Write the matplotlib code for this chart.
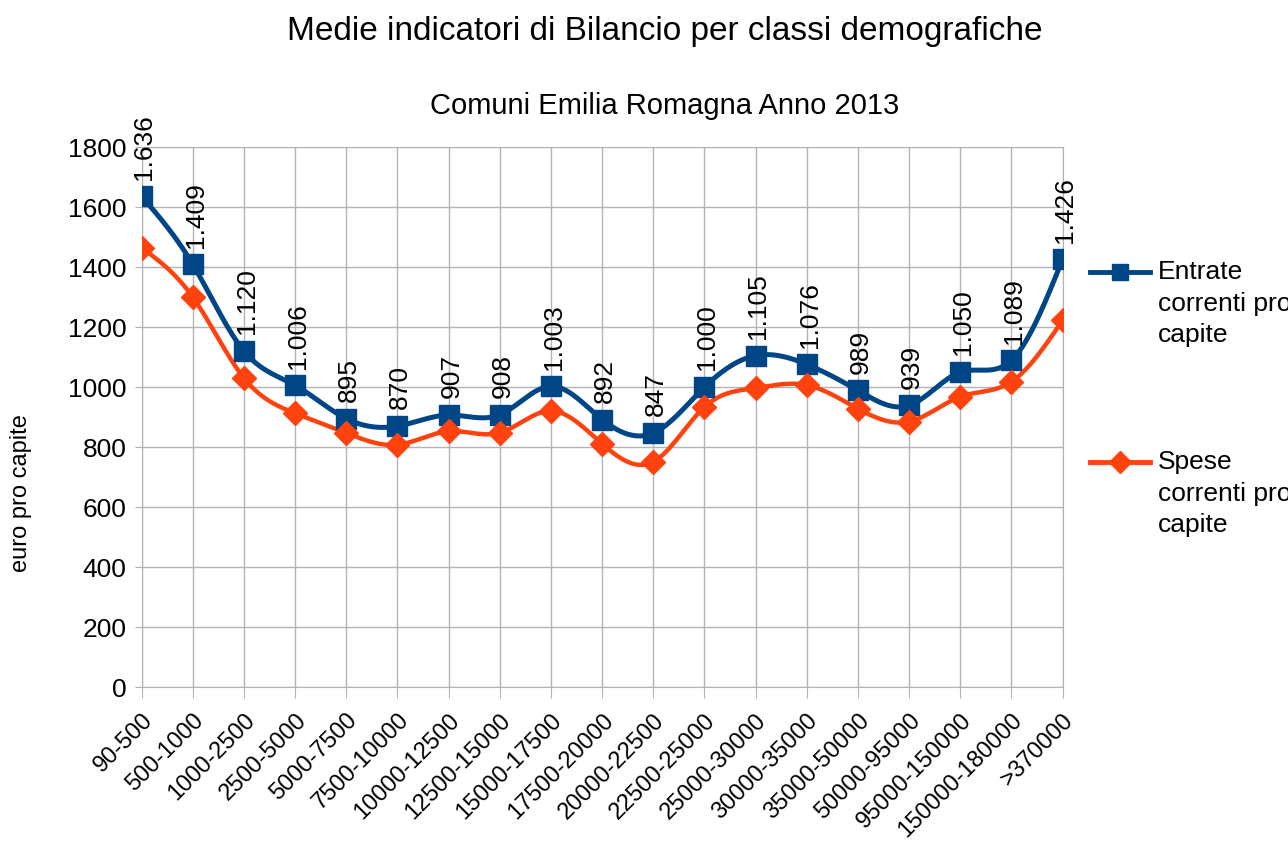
import matplotlib.pyplot as plt
import numpy as np
from matplotlib.lines import Line2D

plt.rcParams['font.family'] = ['Liberation Sans', 'DejaVu Sans']

classes = ['90-500', '500-1000', '1000-2500', '2500-5000', '5000-7500',
           '7500-10000', '10000-12500', '12500-15000', '15000-17500',
           '17500-20000', '20000-22500', '22500-25000', '25000-30000',
           '30000-35000', '35000-50000', '50000-95000', '95000-150000',
           '150000-180000', '>370000']
entrate = [1636, 1409, 1120, 1006, 895, 870, 907, 908, 1003, 892, 847,
           1000, 1105, 1076, 989, 939, 1050, 1089, 1426]
spese = [1465, 1300, 1030, 913, 847, 808, 853, 848, 921, 811, 751,
         934, 997, 1007, 928, 885, 968, 1018, 1223]
series_names = ['Entrate\ncorrenti pro\ncapite', 'Spese\ncorrenti pro\ncapite']

BLUE = '#004586'
ORANGE = '#ff420e'
GRID = '#b3b3b3'


def spline(y, n=30):
    # natural cubic spline through equally spaced points
    y = np.asarray(y, dtype=float)
    k = len(y)
    A = np.zeros((k, k))
    b = np.zeros(k)
    A[0, 0] = A[-1, -1] = 1
    for i in range(1, k - 1):
        A[i, i - 1:i + 2] = [1, 4, 1]
        b[i] = 6 * (y[i + 1] - 2 * y[i] + y[i - 1])
    m = np.linalg.solve(A, b)
    xs, ys = [], []
    for i in range(k - 1):
        t = np.linspace(0, 1, n, endpoint=(i == k - 2))
        yy = ((1 - t) * y[i] + t * y[i + 1]
              + ((1 - t) ** 3 - (1 - t)) * m[i] / 6 + (t ** 3 - t) * m[i + 1] / 6)
        xs.append(i + t)
        ys.append(yy)
    return np.concatenate(xs), np.concatenate(ys)


def fmt(v):
    return f'{v:,}'.replace(',', '.')


fig = plt.figure(figsize=(12.88, 8.41), dpi=100)
ax = fig.add_axes([0.110, 0.183, 0.715, 0.642])

x = np.arange(len(classes))
sx, sy = spline(entrate)
ax.plot(sx, sy, color=BLUE, lw=3.6, zorder=3)
ax.plot(x, entrate, ls='none', marker='s', ms=14, color=BLUE, zorder=4)
sx, sy = spline(spese)
ax.plot(sx, sy, color=ORANGE, lw=3.2, zorder=3)
ax.plot(x, spese, ls='none', marker='D', ms=12, color=ORANGE, zorder=4)

for xi, v in zip(x, entrate):
    ax.annotate(fmt(v), (xi, v), xytext=(2, 12), textcoords='offset points',
                rotation=90, ha='center', va='bottom', fontsize=19,
                annotation_clip=False, zorder=5)

ax.set_xlim(0, len(classes) - 1)
ax.set_ylim(0, 1800)
ax.set_yticks(range(0, 1801, 200))
ax.set_xticks(x)
ax.set_xticklabels(classes, rotation=45, ha='right', rotation_mode='anchor', fontsize=17)
ax.tick_params(axis='y', labelsize=19, length=5, color=GRID, pad=6)
ax.tick_params(axis='x', length=8, color=GRID, pad=8)
ax.grid(True, color=GRID, lw=1)
ax.set_axisbelow(True)
for s in ax.spines.values():
    s.set_color(GRID)
ax.set_ylabel('euro pro capite', fontsize=17)
ax.yaxis.set_label_coords(-0.119, 0.36)

fig.text(0.516, 0.962, 'Medie indicatori di Bilancio per classi demografiche',
         ha='center', va='center', fontsize=24)
fig.text(0.516, 0.874, 'Comuni Emilia Romagna Anno 2013',
         ha='center', va='center', fontsize=21)

# legend drawn by hand: handle aligned with first text line
W, H = 1288, 841
for (ly, col, mk, ms), name in zip([(272, BLUE, 's', 12), (462, ORANGE, 'D', 11)], series_names):
    fig.add_artist(Line2D([1090 / W, 1150 / W], [1 - ly / H] * 2, color=col, lw=3.5,
                          transform=fig.transFigure))
    fig.add_artist(Line2D([1120 / W], [1 - ly / H], color=col, marker=mk, ms=ms,
                          transform=fig.transFigure))
    fig.text(1158 / W, 1 - (ly - 12) / H, name, ha='left', va='top', fontsize=19,
             linespacing=1.4)

fig.savefig('out.png', dpi=100)
